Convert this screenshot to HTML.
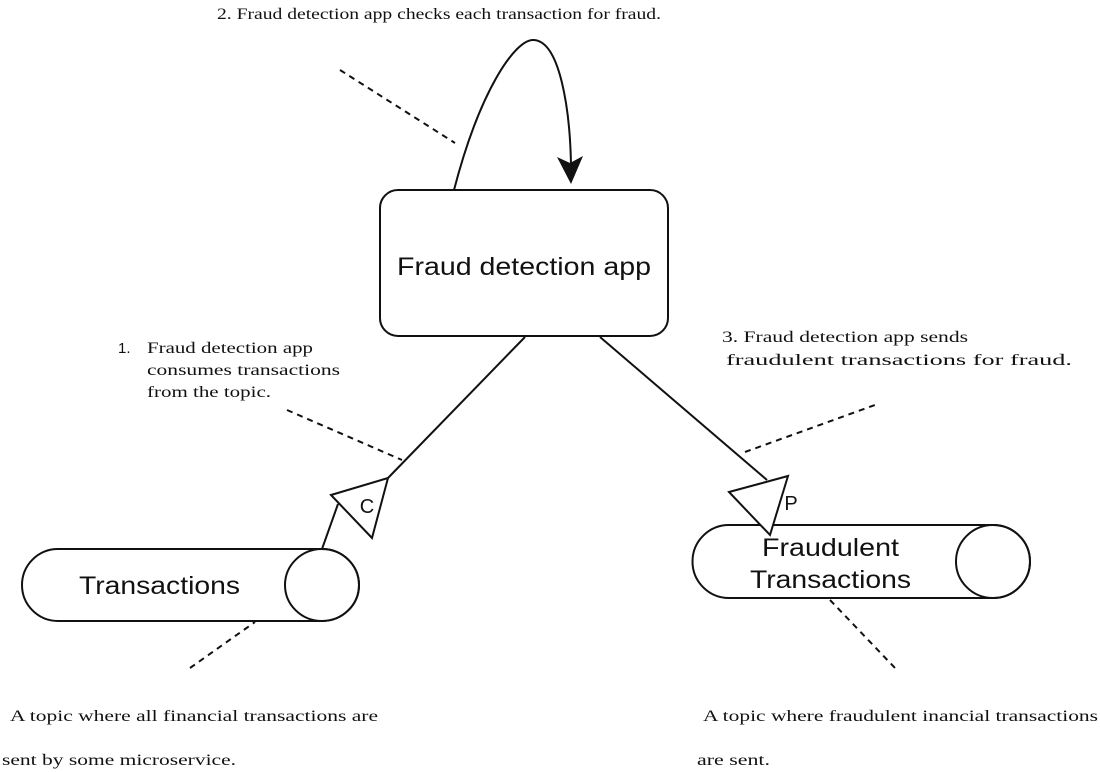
<!DOCTYPE html>
<html><head><meta charset="utf-8"><style>
html,body{margin:0;padding:0;background:#fff;}
svg{display:block}
.s{font-family:"Liberation Serif",serif;font-size:16px;fill:#111}
.a{font-family:"Liberation Sans",sans-serif;fill:#111}
</style></head><body>
<svg width="1100" height="772" viewBox="0 0 1100 772" xmlns="http://www.w3.org/2000/svg">
<g fill="none" stroke="#111" stroke-width="2">
<rect x="380" y="190" width="288" height="146" rx="18"/>
<path d="M454 190 C480 90 515 40 533 40 C560 40 570 110 571 165"/>
<line x1="525" y1="337" x2="388" y2="478"/>
<line x1="338" y1="504" x2="322" y2="549"/>
<line x1="600" y1="337" x2="767" y2="480"/>
<polygon points="331,495 388,478 372,538" fill="#fff"/>
<path d="M58 549 H322 A37 36 0 0 1 322 621 H58 A36 36 0 0 1 58 549 Z" fill="#fff"/>
<ellipse cx="322" cy="585" rx="37" ry="36"/>
<path d="M729 525 H993 A37 36.5 0 0 1 993 598 H729 A36.5 36.5 0 0 1 729 525 Z" fill="#fff"/>
<ellipse cx="993" cy="561.5" rx="37" ry="36.5"/>
<polygon points="729,492 788,476 770,535" fill="#fff"/>
<g stroke-dasharray="6,5">
<line x1="340" y1="70" x2="455" y2="143"/>
<line x1="287" y1="410" x2="402" y2="460"/>
<line x1="745" y1="452" x2="875" y2="405"/>
<line x1="190" y1="668" x2="255" y2="622"/>
<line x1="830" y1="600" x2="895" y2="668"/>
</g>
</g>
<polygon points="571,184 557,157 570,163 583,156" fill="#111"/>
<text class="a" x="397" y="275" font-size="25" textLength="254" lengthAdjust="spacingAndGlyphs">Fraud detection app</text>
<text class="a" x="79" y="594" font-size="25" textLength="161" lengthAdjust="spacingAndGlyphs">Transactions</text>
<text class="a" x="762" y="556" font-size="25" textLength="137" lengthAdjust="spacingAndGlyphs">Fraudulent</text>
<text class="a" x="750" y="588" font-size="25" textLength="161" lengthAdjust="spacingAndGlyphs">Transactions</text>
<text class="a" x="367" y="513" font-size="20" text-anchor="middle">C</text>
<text class="a" x="791" y="510" font-size="20" text-anchor="middle">P</text>
<text class="s" x="217" y="19" textLength="444" lengthAdjust="spacingAndGlyphs">2. Fraud detection app checks each transaction for fraud.</text>
<text class="a" x="118" y="353" font-size="15">1.</text>
<text class="s" x="147" y="353" textLength="166" lengthAdjust="spacingAndGlyphs">Fraud detection app</text>
<text class="s" x="147" y="375" textLength="193" lengthAdjust="spacingAndGlyphs">consumes transactions</text>
<text class="s" x="147" y="397" textLength="124" lengthAdjust="spacingAndGlyphs">from the topic.</text>
<text class="s" x="722" y="342" textLength="246" lengthAdjust="spacingAndGlyphs">3. Fraud detection app sends</text>
<text class="s" x="726" y="365" textLength="346" lengthAdjust="spacingAndGlyphs">fraudulent transactions  for fraud.</text>
<text class="s" x="10" y="721" textLength="368" lengthAdjust="spacingAndGlyphs">A topic where all financial transactions are</text>
<text class="s" x="2" y="765" textLength="234" lengthAdjust="spacingAndGlyphs">sent by some microservice.</text>
<text class="s" x="703" y="721" textLength="395" lengthAdjust="spacingAndGlyphs">A topic where fraudulent inancial transactions</text>
<text class="s" x="697" y="765" textLength="73" lengthAdjust="spacingAndGlyphs">are sent.</text>
</svg>
</body></html>
